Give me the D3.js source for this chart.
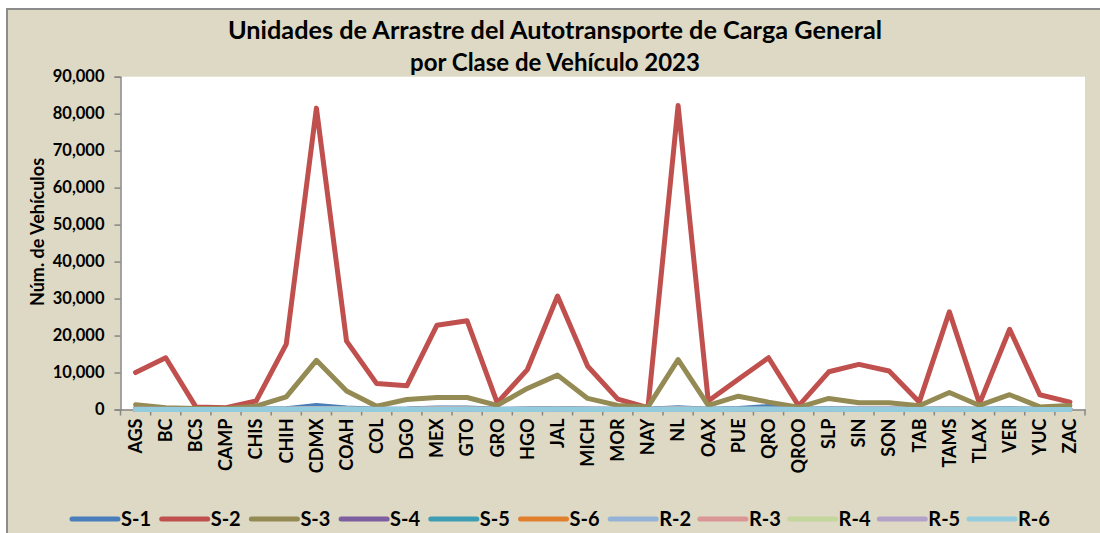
<!DOCTYPE html>
<html><head><meta charset="utf-8">
<script src="https://cdn.jsdelivr.net/npm/d3@7"></script>
<style>body{margin:0;background:#fff;overflow:hidden}</style>
</head><body><svg id="c" width="1100" height="533"></svg>
<script>
const categories = ["AGS","BC","BCS","CAMP","CHIS","CHIH","CDMX","COAH","COL","DGO","MEX","GTO","GRO","HGO","JAL","MICH","MOR","NAY","NL","OAX","PUE","QRO","QROO","SLP","SIN","SON","TAB","TAMS","TLAX","VER","YUC","ZAC"];
const yTicks = [0,10000,20000,30000,40000,50000,60000,70000,80000,90000];
const seriesNames = ["S-1","S-2","S-3","S-4","S-5","S-6","R-2","R-3","R-4","R-5","R-6"];
const s1 = [200,150,50,50,100,200,1100,400,100,150,400,400,50,150,300,150,100,50,500,100,300,800,50,200,150,150,50,200,50,200,50,50];
const s2 = [10000,14000,700,500,2300,17700,81500,18500,7000,6400,22800,24000,1800,10800,30700,11700,2800,500,82200,2300,8200,14000,1000,10200,12200,10400,2000,26400,1600,21700,4000,2000];
const s3 = [1300,500,300,300,900,3400,13300,5000,900,2700,3250,3250,1100,5700,9300,3000,1100,700,13500,1100,3600,2000,600,3000,1800,1800,1000,4600,1100,4000,700,1100];
const s4 = [20,10,5,5,10,20,80,30,10,10,60,50,5,20,40,20,10,5,60,10,30,30,5,20,20,20,5,30,5,30,10,10];
const s5 = [30,20,10,10,20,40,150,60,20,30,100,90,10,40,80,30,20,10,120,20,60,70,10,40,30,30,10,50,10,50,10,10];
const s6 = [10,5,5,5,5,10,40,20,5,5,30,20,5,10,20,10,5,5,30,5,10,10,5,10,10,10,5,20,5,20,5,5];
const r2 = [60,50,20,20,40,80,250,120,40,50,200,180,20,60,150,60,40,20,250,40,100,150,20,80,60,60,20,100,20,100,30,20];
const r3 = [40,30,10,10,20,60,200,80,20,30,180,160,10,40,100,40,20,10,150,20,60,80,10,50,60,60,20,150,10,80,20,10];
const r4 = [20,15,5,5,10,30,80,40,10,15,60,60,5,20,50,20,10,5,70,10,30,30,5,20,20,20,5,40,5,30,10,5];
const r5 = [10,10,5,5,5,20,50,20,5,10,40,30,5,10,30,10,5,5,40,5,20,20,5,10,10,10,5,20,5,20,5,5];
const r6 = [30,20,10,10,20,40,120,50,20,20,90,80,10,30,70,30,20,10,100,20,50,60,10,40,30,30,10,50,10,50,20,10];
const seriesValues = [s1,s2,s3,s4,s5,s6,r2,r3,r4,r5,r6];
const colors = ["#4A7EBB","#C0504D","#948A54","#7D5FA0","#3D9DB3","#E0802F","#95B3D7","#D99694","#C3D69B","#B3A2C7","#93CDDD"];

const svg = d3.select("#c");
const font = "Lato, 'Open Sans', sans-serif";
svg.append("rect").attr("x",7).attr("y",9).attr("width",1200).attr("height",600)
  .attr("fill","#DDD9C4").attr("stroke","#8C8C8C").attr("stroke-width",2);

const L=120.5, R=1085, T=76.7, B=409.5;
svg.append("rect").attr("x",L).attr("y",T).attr("width",R-L).attr("height",B-T).attr("fill","#fff");

const x = d3.scaleBand().domain(categories).range([L,R]);
const y = d3.scaleLinear().domain([0,90000]).range([B,T]);
const cx = c => x(c)+x.bandwidth()/2;

// title
const title = svg.append("text").attr("text-anchor","middle").attr("font-family",font)
  .attr("font-weight","bold").attr("font-size",24).attr("fill","#000");
title.append("tspan").attr("x",555).attr("y",39).attr("textLength",654).attr("lengthAdjust","spacingAndGlyphs").text("Unidades de Arrastre del Autotransporte de Carga General");
title.append("tspan").attr("x",555).attr("y",71).text("por Clase de Vehículo 2023");

// y axis
const ya = svg.append("g").attr("transform",`translate(${L},0)`)
  .call(d3.axisLeft(y).tickValues(yTicks).tickFormat(d3.format(",")).tickSize(6).tickPadding(10));
ya.select(".domain").attr("stroke","#868686").attr("stroke-width",1.5);
ya.selectAll(".tick line").attr("stroke","#868686").attr("stroke-width",1.5);
ya.selectAll("text").attr("font-family",font).attr("font-weight","bold").attr("font-size",16.5).attr("fill","#000");

svg.append("text").attr("transform","translate(44,232) rotate(-90)").attr("text-anchor","middle")
  .attr("font-family",font).attr("font-weight","bold").attr("font-size",18).attr("fill","#000")
  .text("Núm. de Vehículos");

// x axis
const xa = svg.append("g").attr("transform",`translate(0,${B})`)
  .call(d3.axisBottom(x).tickSize(0).tickPadding(0));
xa.select(".domain").attr("stroke","#868686").attr("stroke-width",1.5);
xa.selectAll("text").attr("transform","rotate(-90)").attr("x",-9).attr("y",0).attr("dy","0.35em")
  .style("text-anchor","end").attr("font-family",font).attr("font-weight","bold").attr("font-size",18).attr("fill","#000");
const bounds = categories.map(c=>x(c)).concat([x.range()[1]]);
xa.selectAll(".bt").data(bounds).enter().append("line").attr("class","bt")
  .attr("x1",d=>d).attr("x2",d=>d).attr("y1",0).attr("y2",6).attr("stroke","#868686").attr("stroke-width",1.5);

// lines
const line = d3.line().x((d,i)=>cx(categories[i])).y(d=>y(d));
seriesValues.forEach((vals,k)=>{
  svg.append("path").datum(vals).attr("d",line).attr("fill","none")
    .attr("stroke",colors[k]).attr("stroke-width",5).attr("stroke-linejoin","round").attr("stroke-linecap","round");
});

// legend
const legendX = d3.scalePoint().domain(seriesNames).range([72,969]);
const lg = svg.append("g");
seriesNames.forEach((n,k)=>{
  const x0 = legendX(n);
  lg.append("line").attr("x1",x0).attr("x2",x0+46).attr("y1",519).attr("y2",519)
    .attr("stroke",colors[k]).attr("stroke-width",5).attr("stroke-linecap","round");
  lg.append("text").attr("x",x0+49).attr("y",519).attr("dy","0.35em")
    .attr("font-family",font).attr("font-weight","bold").attr("font-size",20).attr("fill","#000").text(n);
});
</script></body></html>
